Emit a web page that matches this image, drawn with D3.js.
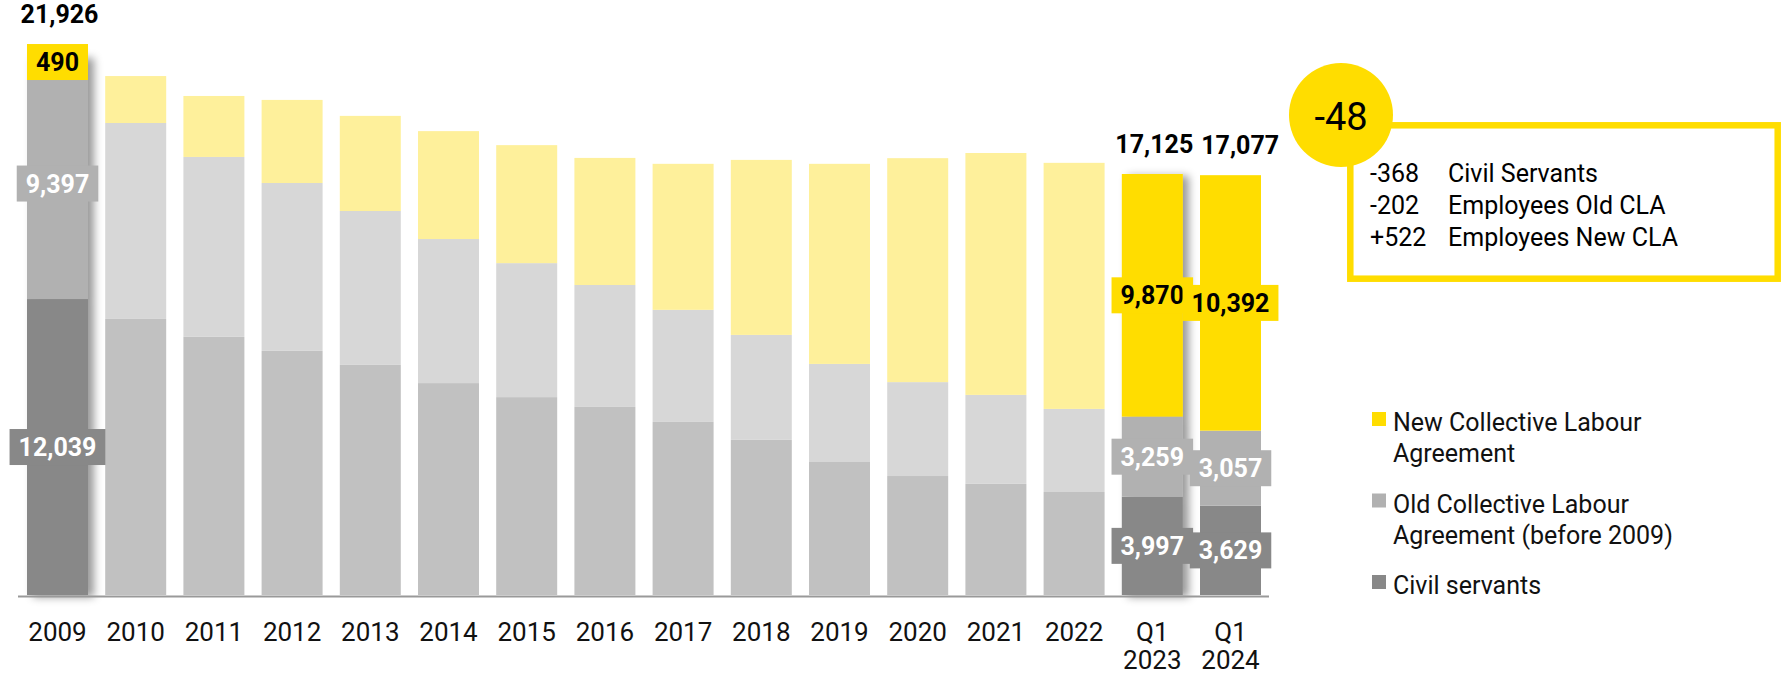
<!DOCTYPE html>
<html>
<head>
<meta charset="utf-8">
<script src="https://cdn.jsdelivr.net/npm/d3@7"></script>
<style>
    body { margin: 0; background: #fff; }
    svg text { font-family: Roboto, "Noto Sans", sans-serif; }
</style>
</head>
<body>
<script>

const categories = ["2009", "2010", "2011", "2012", "2013", "2014", "2015", "2016",
    "2017", "2018", "2019", "2020", "2021", "2022", "Q1 2023", "Q1 2024"]

// headcount per group
const civilServants = [12039, 11230, 10500, 9930, 9360, 8620, 8050, 7650, 7040, 6310, 5410, 4840, 4520, 4190, 3997, 3629]
const oldCLA = [9397, 7970, 7320, 6830, 6260, 5860, 5450, 4960, 4560, 4270, 3990, 3820, 3620, 3380, 3259, 3057]
const newCLA = [490, 1910, 2480, 3380, 3870, 4390, 4800, 5170, 5940, 7120, 8140, 9110, 9840, 10010, 9870, 10392]

// bars that get labels, full colours and totals
const highlighted = ["2009", "Q1 2023", "Q1 2024"]
const totalLabels = {"2009": "21,926", "Q1 2023": "17,125", "Q1 2024": "17,077"}
const shadowed = ["2009", "Q1 2023"]

const changeTotal = "-48"
const changeRows = [["-368", "Civil Servants"], ["-202", "Employees Old CLA"], ["+522", "Employees New CLA"]]

const legendItems = [
    {key: "newCLA", lines: ["New Collective Labour", "Agreement"]},
    {key: "oldCLA", lines: ["Old Collective Labour", "Agreement (before 2009)"]},
    {key: "civil", lines: ["Civil servants"]}
]

const strong = {civil: "#888888", oldCLA: "#b1b1b1", newCLA: "#ffdd00"}
const faded = {civil: "#c1c1c1", oldCLA: "#d7d7d7", newCLA: "#fef09b"}

const width = 1787, height = 676
const baseY = 595

const svg = d3.select("body").append("svg")
    .attr("width", width)
    .attr("height", height)

const filter = svg.append("defs").append("filter")
    .attr("id", "shadow")
    .attr("x", "-20%").attr("width", "160%")
    .attr("y", "-5%").attr("height", "115%")
filter.append("feDropShadow")
    .attr("dx", 6).attr("dy", 2)
    .attr("stdDeviation", 4)
    .attr("flood-color", "#000")
    .attr("flood-opacity", 0.4)

const table = categories.map((c, i) => ({
    cat: c, civil: civilServants[i], oldCLA: oldCLA[i], newCLA: newCLA[i]
}))
const keys = ["civil", "oldCLA", "newCLA"]
const series = d3.stack().keys(keys)(table)

const x = d3.scaleBand()
    .domain(categories)
    .range([27, 1261])
    .paddingInner(0.22)

const y = d3.scaleLinear()
    .domain([0, d3.max(series[series.length - 1], d => d[1])])
    .range([baseY, 56])

const bars = svg.append("g")
    .selectAll("g")
    .data(categories)
    .join("g")
    .attr("filter", d => shadowed.includes(d) ? "url(#shadow)" : null)

bars.selectAll("rect")
    .data((c, i) => series.map(s => ({cat: c, key: s.key, y0: s[i][0], y1: s[i][1]})))
    .join("rect")
    .attr("x", d => x(d.cat))
    .attr("width", x.bandwidth())
    .attr("y", d => y(d.y1))
    .attr("height", d => y(d.y0) - y(d.y1))
    .attr("fill", d => highlighted.includes(d.cat) ? strong[d.key] : faded[d.key])

// axis line + labels
svg.append("line")
    .attr("x1", x.range()[0] - 9)
    .attr("x2", x.range()[1] + 8)
    .attr("y1", baseY + 1.5)
    .attr("y2", baseY + 1.5)
    .attr("stroke", "#999")
    .attr("stroke-width", 2)

const xAxis = svg.append("g")
    .attr("transform", `translate(0,${baseY + 1})`)
    .call(d3.axisBottom(x).tickSize(0))
xAxis.select(".domain").remove()
xAxis.selectAll(".tick text")
    .attr("font-size", 26)
    .attr("font-family", null)
    .attr("fill", "#111")
    .each(function (d) {
        const t = d3.select(this).text(null).attr("dy", null).attr("y", null)
        d.split(" ").forEach((part, i) => {
            t.append("tspan").attr("x", 0).attr("y", 45 + i * 28).text(part)
        })
    })

// segment value labels
const fmt = d3.format(",")
const labelG = svg.append("g")
let prevRight = -Infinity
highlighted.forEach(cat => {
    const i = categories.indexOf(cat)
    const cx = x(cat) + x.bandwidth() / 2
    let topY = y(series[series.length - 1][i][1])
    series.forEach(s => {
        const mid = (y(s[i][0]) + y(s[i][1])) / 2
        const g = labelG.append("g")
        const box = g.append("rect")
        const t = g.append("text")
            .attr("x", cx)
            .attr("y", mid)
            .attr("dy", "0.36em")
            .attr("text-anchor", "middle")
            .attr("font-size", 25)
            .attr("font-weight", 700)
            .attr("fill", s.key === "newCLA" ? "#000" : "#fff")
            .text(fmt(s[i][1] - s[i][0]))
        const w = t.node().getComputedTextLength()
        box.attr("x", cx - w / 2 - 9)
            .attr("width", w + 18)
            .attr("y", mid - 18)
            .attr("height", 36)
            .attr("fill", strong[s.key])
        topY = Math.min(topY, mid - 18)
    })
    const total = labelG.append("text")
        .attr("y", topY - 21)
        .attr("text-anchor", "middle")
        .attr("font-size", 25)
        .attr("font-weight", 700)
        .attr("fill", "#000")
        .text(totalLabels[cat])
    const tw = total.node().getComputedTextLength()
    let tx = cx + 2
    // push right if it would collide with the previous total
    if (tx - tw / 2 < prevRight + 8) tx = prevRight + 8 + tw / 2
    total.attr("x", tx)
    prevRight = tx + tw / 2
})

// change callout
const callout = svg.append("g")
callout.append("rect")
    .attr("x", 1350.3).attr("y", 125.3)
    .attr("width", 427.4).attr("height", 153.4)
    .attr("fill", "none")
    .attr("stroke", "#ffdd00")
    .attr("stroke-width", 6.5)
callout.append("circle")
    .attr("cx", 1341).attr("cy", 115).attr("r", 52)
    .attr("fill", "#ffdd00")
callout.append("text")
    .attr("x", 1341).attr("y", 116)
    .attr("dy", "0.36em")
    .attr("text-anchor", "middle")
    .attr("font-size", 38)
    .attr("fill", "#000")
    .text(changeTotal)
changeRows.forEach((r, i) => {
    callout.append("text")
        .attr("x", 1370).attr("y", 182 + i * 32)
        .attr("font-size", 25)
        .text(r[0])
    callout.append("text")
        .attr("x", 1448).attr("y", 182 + i * 32)
        .attr("font-size", 25)
        .text(r[1])
})

// legend
const legend = svg.append("g")
legendItems.forEach((item, i) => {
    const top = 412 + i * 81.5
    legend.append("rect")
        .attr("x", 1372).attr("y", top)
        .attr("width", 14).attr("height", 14)
        .attr("fill", strong[item.key])
    const t = legend.append("text")
        .attr("font-size", 25)
        .attr("fill", "#111")
    item.lines.forEach((line, j) => {
        t.append("tspan")
            .attr("x", 1393)
            .attr("y", top + 19 + j * 31)
            .text(line)
    })
})

</script>
</body>
</html>
